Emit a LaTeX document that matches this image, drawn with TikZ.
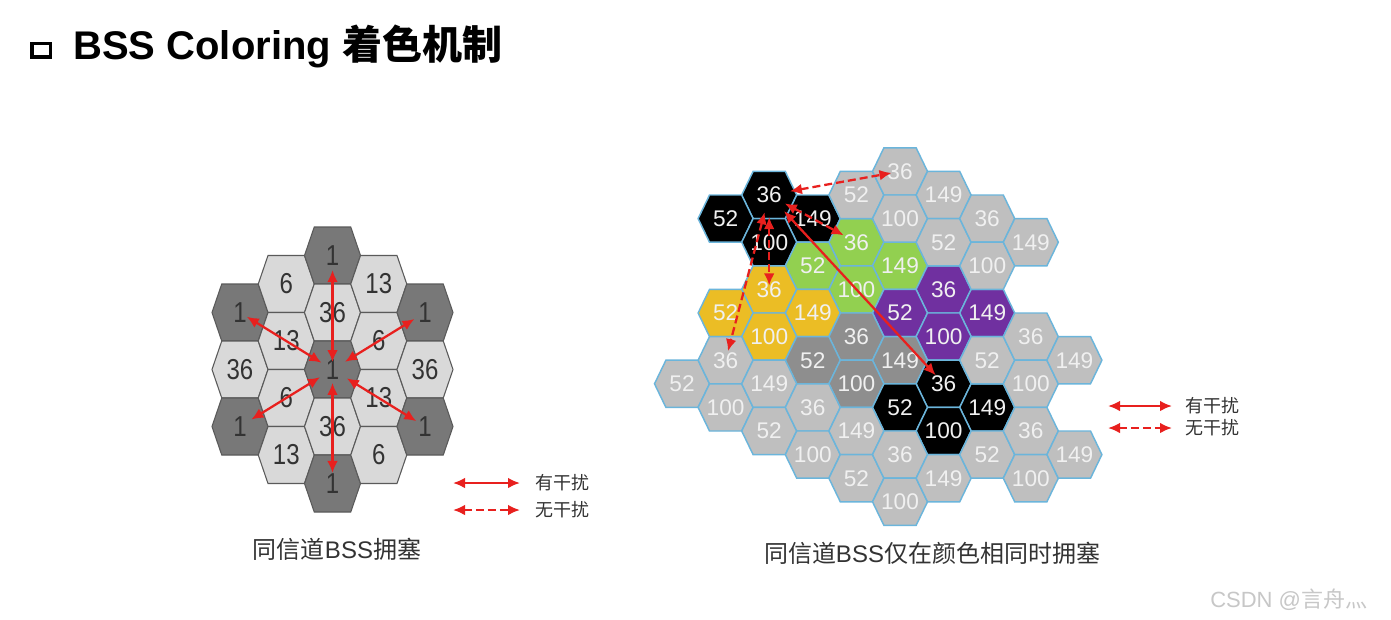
\documentclass[tikz,border=0pt]{standalone}
\usepackage{fontspec}
\setmainfont{Liberation Sans}
\newfontfamily\cjk{Noto Sans CJK SC}
\usepackage{tikz}
\usetikzlibrary{arrows.meta}
\definecolor{hexlight}{HTML}{D9D9D9}
\definecolor{hexdark}{HTML}{787878}
\definecolor{hexedge}{HTML}{5A5A5A}
\definecolor{cellgray}{HTML}{BFBFBF}
\definecolor{celldark}{HTML}{8E8E8E}
\definecolor{cellgreen}{HTML}{92D050}
\definecolor{cellyellow}{HTML}{EBBD25}
\definecolor{cellpurple}{HTML}{7030A0}
\definecolor{celledge}{HTML}{6BB5DB}
\definecolor{linkred}{HTML}{E8201E}
\definecolor{inkgray}{HTML}{333333}

\begin{document}
\begin{tikzpicture}[x=0.75pt, y=-0.75pt,
  lhex/.style={draw=hexedge, line width=0.8pt},
  rhex/.style={draw=celledge, line width=1.1pt},
  llab/.style={inner sep=0, text=inkgray, font=\fontsize{18}{18}\selectfont, yscale=1.2},
  rlab/.style={inner sep=0, text=white!94!black, font=\fontsize{17}{17}\selectfont},
  link/.style={linkred, line width=1.7pt, <->, >={Latex[length=9pt,width=8pt]}},
  nolink/.style={link, dash pattern=on 6pt off 3pt},
  keytext/.style={anchor=west, inner sep=0, text=inkgray, font=\cjk\fontsize{13.5}{13.5}\selectfont},
  caption/.style={inner sep=0, text=inkgray, font=\fontsize{18}{18}\selectfont}]
  \useasboundingbox[fill=white] (0,0) rectangle (1391,619);

  \draw[line width=2.8pt] (32,43.5) rectangle (50.5,57);
  \node[anchor=base west, inner sep=0, font=\bfseries\fontsize{30}{30}\selectfont] (title) at (73,59) {BSS Coloring {\cjk 着色机制}};

  \foreach \c/\k/\t/\f in {0/1/1/hexdark, 0/2/36/hexlight, 0/3/1/hexdark,
    1/0/6/hexlight, 1/1/13/hexlight, 1/2/6/hexlight, 1/3/13/hexlight,
    2/0/1/hexdark, 2/1/36/hexlight, 2/2/1/hexdark, 2/3/36/hexlight, 2/4/1/hexdark,
    3/0/13/hexlight, 3/1/6/hexlight, 3/2/13/hexlight, 3/3/6/hexlight,
    4/1/1/hexdark, 4/2/36/hexlight, 4/3/1/hexdark}
  {
    \pgfmathsetmacro\x{240+46.25*\c}
    \pgfmathsetmacro\y{255.5+57*\k+28.5*mod(\c,2)}
    \draw[lhex, fill=\f] (\x-28,\y) -- (\x-18.25,\y-28.5) -- (\x+18.25,\y-28.5) -- (\x+28,\y) -- (\x+18.25,\y+28.5) -- (\x-18.25,\y+28.5) -- cycle;
    \node[llab] (l\c\k) at (\x,\y) {\t};
  }
  \foreach \o/\a/\b in {l20/5.6/10.9, l24/10/7.9, l01/9.7/6, l41/11/9.3, l03/11/10, l43/12.6/7.7}
    \draw[link, shorten <=\a pt, shorten >=\b pt] (l22.center) -- (\o.center);

  \foreach \c/\k/\t/\f in {2/0/36/black, 1/1/52/black, 3/1/149/black, 2/1/100/black,
    4/1/36/cellgreen, 3/2/52/cellgreen, 5/2/149/cellgreen, 4/2/100/cellgreen,
    2/2/36/cellyellow, 1/3/52/cellyellow, 3/3/149/cellyellow, 2/3/100/cellyellow,
    6/2/36/cellpurple, 5/3/52/cellpurple, 7/3/149/cellpurple, 6/3/100/cellpurple,
    4/3/36/celldark, 3/4/52/celldark, 5/4/149/celldark, 4/4/100/celldark,
    6/4/36/black, 5/5/52/black, 7/5/149/black, 6/5/100/black,
    0/4/52/cellgray, 1/4/36/cellgray, 1/5/100/cellgray, 2/4/149/cellgray, 2/5/52/cellgray,
    3/5/36/cellgray, 3/6/100/cellgray, 4/0/52/cellgray, 4/5/149/cellgray, 4/6/52/cellgray,
    5/0/36/cellgray, 5/1/100/cellgray, 5/6/36/cellgray, 5/7/100/cellgray,
    6/0/149/cellgray, 6/1/52/cellgray, 6/6/149/cellgray,
    7/1/36/cellgray, 7/2/100/cellgray, 7/4/52/cellgray, 7/6/52/cellgray,
    8/1/149/cellgray, 8/3/36/cellgray, 8/4/100/cellgray, 8/5/36/cellgray, 8/6/100/cellgray,
    9/4/149/cellgray, 9/6/149/cellgray}
  {
    \pgfmathsetmacro\x{682+43.6*\c}
    \pgfmathsetmacro\y{195+47.2*\k-23.6*mod(\c,2)}
    \draw[rhex, fill=\f] (\x-27.5,\y) -- (\x-16.1,\y-23.6) -- (\x+16.1,\y-23.6) -- (\x+27.5,\y) -- (\x+16.1,\y+23.6) -- (\x-16.1,\y+23.6) -- cycle;
    \node[rlab] (r\c\k) at (\x,\y) {\t};
  }
  \draw[nolink, shorten <=15.8pt, shorten >=6.5pt] (r20.center) -- (r50.center);
  \draw[nolink, shorten <=13.3pt, shorten >=10.9pt] (r20.center) -- (r41.center);
  \draw[nolink, shorten <=16.5pt, shorten >=3pt] (r20.center) -- (r22.center);
  \draw[nolink, shorten <=13.4pt, shorten >=7pt] (r20.center) -- (r14.center);
  \draw[link, shorten <=16.4pt, shorten >=8.8pt] (r20.center) -- (r64.center);

  \coordinate (la1) at (453,483); \coordinate (la2) at (520,483);
  \coordinate (lb1) at (453,510); \coordinate (lb2) at (520,510);
  \draw[link] (la1) -- (la2);
  \draw[nolink] (lb1) -- (lb2);
  \node[keytext] (lka) at (535,483) {有干扰};
  \node[keytext] (lkb) at (535,510) {无干扰};

  \coordinate (ra1) at (1108,406); \coordinate (ra2) at (1172,406);
  \coordinate (rb1) at (1108,428); \coordinate (rb2) at (1172,428);
  \draw[link] (ra1) -- (ra2);
  \draw[nolink] (rb1) -- (rb2);
  \node[keytext] (rka) at (1185,406) {有干扰};
  \node[keytext] (rkb) at (1185,428) {无干扰};

  \node[caption] (capl) at (337,549) {{\cjk 同信道}BSS{\cjk 拥塞}};
  \node[caption] (capr) at (932,553) {{\cjk 同信道}BSS{\cjk 仅在颜色相同时拥塞}};
  \node[anchor=west, inner sep=0, text=black!22, font=\fontsize{16.5}{16.5}\selectfont] (mark) at (1210,600) {CSDN @{\cjk 言舟灬}};
\end{tikzpicture}
\end{document}
